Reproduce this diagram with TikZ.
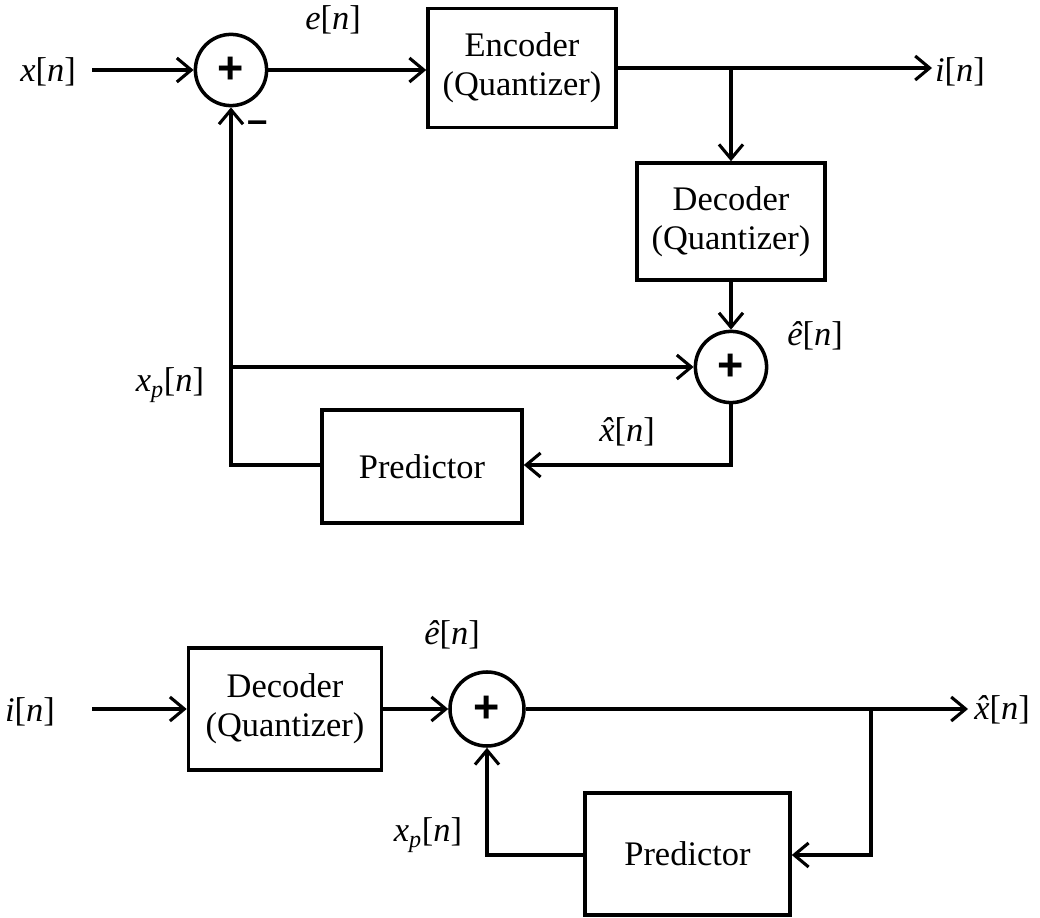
\documentclass[tikz,border=0pt]{standalone}
\usepackage{fontspec}
\setmainfont{Liberation Serif}
\newfontfamily\plusfont{Liberation Sans}
\usetikzlibrary{arrows.meta,positioning,calc}
\newcommand{\vx}[1]{\textit{#1}[\textit{n}]}
\newcommand{\xhatsym}{{\ooalign{\textit{x}\cr\hfil\textit{ˆ}\hfil\cr}}}
\begin{document}
\begin{tikzpicture}[x=0.025cm,y=-0.025cm,
  every node/.style={font=\fontsize{24.5}{28}\selectfont},
  blk/.style={draw,line width=2.5pt,align=center,inner sep=0pt},
  sumnode/.style={draw,circle,line width=2.5pt,minimum size=1.78cm,inner sep=0pt,
     font=\plusfont\bfseries\fontsize{32}{34}\selectfont},
  lbl/.style={inner sep=0pt},
  arr/.style={line width=2.5pt,-{Straight Barb[length=0.36cm,width=0.6cm,line width=2.2pt]}}]
\useasboundingbox (0,0) rectangle (1040,918);
% ---------- top diagram ----------
\node[sumnode] (s1) at (231,70) {+};
\node[blk,minimum width=4.7cm,minimum height=2.975cm] (enc) at (522,68) {Encoder\\(Quantizer)};
\node[blk,minimum width=4.7cm,minimum height=2.925cm] (dec1) at (731,221.5) {Decoder\\(Quantizer)};
\node[sumnode] (s2) at (731,367) {+};
\node[blk,minimum width=5.0cm,minimum height=2.825cm] (pred1) at (422,466.5) {Predictor};
\coordinate (in1) at (92,70);
\coordinate (out1) at (932,68);
\coordinate (b1) at (731,68);
\coordinate (c1) at (731,465);
\coordinate (c2) at (231,465);
\coordinate (c3) at (231,367);
\draw[arr] (in1) -- (s1);
\draw[arr] (s1) -- (s1 -| enc.west);
\draw[arr] (enc) -- (out1);
\draw[arr] (b1) -- (dec1);
\draw[arr] (dec1) -- (s2);
\draw[arr] (s2.south) -- (c1) -- (pred1.east |- c1);
\draw[arr] (pred1.west |- c2) -- (c2) -- (s1);
\draw[arr] (c3) -- (s2);
\node[lbl] (lx) at (48,72) {\vx{x}};
\node[lbl] (le) at (333,20) {\vx{e}};
\node[lbl] (li) at (960,72) {\vx{i}};
\node[lbl] (leh) at (815,336) {\vx{ê}};
\node[lbl] (lxp) at (170,385) {\textit{x}\textsubscript{\textit{p}}[\textit{n}]};
\node[lbl] (lxh) at (627,432) {\xhatsym[\textit{n}]};
\node[lbl,font=\plusfont\bfseries\fontsize{26}{28}\selectfont] (lm) at (258,127) {–};
% ---------- bottom diagram ----------
\node[blk,minimum width=4.825cm,minimum height=3.05cm] (dec2) at (285,709) {Decoder\\(Quantizer)};
\node[sumnode,minimum size=1.85cm] (s3) at (487,709) {+};
\node[blk,minimum width=5.125cm,minimum height=3.05cm] (pred2) at (687.5,854) {Predictor};
\coordinate (in2) at (92,709);
\coordinate (out2) at (968,709);
\coordinate (b2) at (871,709);
\coordinate (c4) at (871,855);
\coordinate (c5) at (487,855);
\draw[arr] (in2) -- (dec2);
\draw[arr] (dec2) -- (s3);
\draw[arr] (s3) -- (out2);
\draw[arr] (b2) -- (c4) -- (pred2.east |- c4);
\draw[arr] (pred2.west |- c5) -- (c5) -- (s3);
\node[lbl] (li2) at (30,712) {\vx{i}};
\node[lbl] (leh2) at (452,635) {\vx{ê}};
\node[lbl] (lxh2) at (1002,710) {\xhatsym[\textit{n}]};
\node[lbl] (lxp2) at (428,835) {\textit{x}\textsubscript{\textit{p}}[\textit{n}]};
\end{tikzpicture}
\end{document}
